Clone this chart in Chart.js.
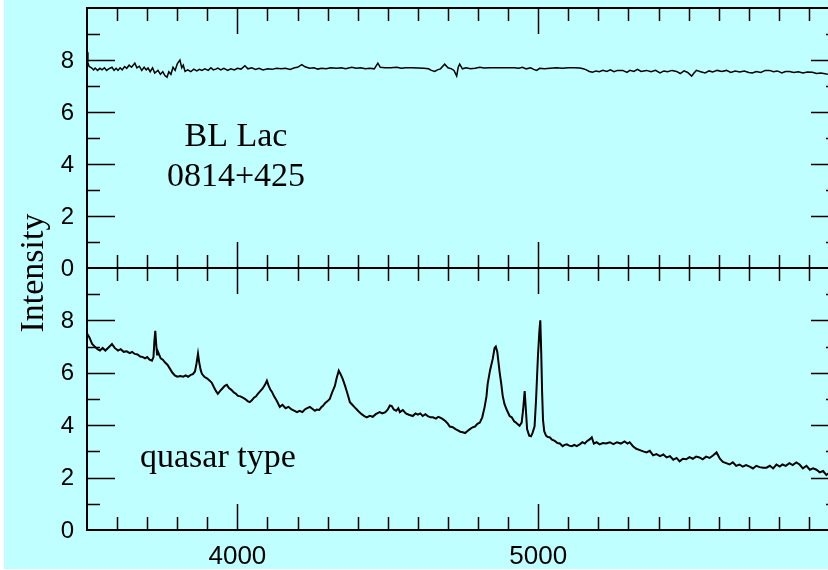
<!DOCTYPE html>
<html>
<head>
<meta charset="utf-8">
<title>BL Lac vs quasar spectrum</title>
<script src="https://cdn.jsdelivr.net/npm/chart.js@4/dist/chart.umd.min.js"></script>
<style>
  html, body { margin: 0; padding: 0; background: #fff; overflow: hidden; }
  #bg { position: absolute; left: 4px; top: 0; width: 824px; height: 569px; background: #c0ffff; }
  canvas { position: absolute; left: 0; top: 0; }
</style>
</head>
<body>
<div id="bg"></div>
<canvas id="chart-top" width="840" height="570"></canvas>
<canvas id="chart-bot" width="840" height="570"></canvas>
<script>
(() => {
  "use strict";
  const X_MIN = 3500, X_MAX = 6000;
  const Y_MIN = 0, Y_MAX = 10;

  // tick positions / labels
  const xMajorTicks = [4000, 5000];
  const xMinorTicks = [3600, 3700, 3800, 3900, 4100, 4200, 4300, 4400, 4500, 4600, 4700, 4800, 4900,
                       5100, 5200, 5300, 5400, 5500, 5600, 5700, 5800, 5900];
  const xTickLabels = ["4000", "5000"];
  const yMajorTicks = [2, 4, 6, 8];
  const yMinorTicks = [1, 3, 5, 7, 9];
  const yTickLabels = ["0", "2", "4", "6", "8"];

  // BL Lac 0814+425 (upper panel)
  const blWave = [3500, 3503, 3507, 3515, 3522, 3527, 3535, 3543, 3550, 3558, 3565, 3572, 3583, 3590, 3597,
    3603, 3610, 3617, 3625, 3632, 3640, 3648, 3659, 3666, 3674, 3682, 3690, 3697, 3703, 3710, 3718, 3725,
    3736, 3744, 3752, 3759, 3766, 3772, 3779, 3786, 3793, 3800, 3809, 3815, 3820, 3826, 3835, 3845, 3855,
    3865, 3874, 3882, 3892, 3903, 3912, 3920, 3930, 3935, 3945, 3955, 3968, 3978, 3990, 4000, 4012, 4025,
    4035, 4048, 4060, 4072, 4085, 4101, 4115, 4130, 4145, 4160, 4175, 4190, 4200, 4214, 4225, 4240, 4255,
    4267, 4280, 4295, 4310, 4330, 4345, 4360, 4380, 4395, 4410, 4425, 4440, 4455, 4467, 4475, 4490, 4510,
    4530, 4545, 4560, 4580, 4600, 4620, 4635, 4645, 4656, 4665, 4675, 4689, 4700, 4712, 4720, 4729, 4734,
    4739, 4748, 4760, 4775, 4790, 4806, 4820, 4840, 4860, 4880, 4900, 4920, 4935, 4948, 4960, 4975, 4985,
    4995, 5005, 5020, 5040, 5060, 5080, 5100, 5120, 5138, 5150, 5160, 5170, 5181, 5192, 5203, 5215, 5228,
    5240, 5252, 5264, 5281, 5295, 5305, 5318, 5330, 5342, 5360, 5375, 5390, 5405, 5418, 5430, 5445, 5460,
    5472, 5485, 5497, 5510, 5518, 5526, 5540, 5555, 5568, 5580, 5595, 5610, 5626, 5640, 5655, 5670, 5685,
    5700, 5712, 5725, 5740, 5755, 5769, 5782, 5795, 5810, 5822, 5835, 5850, 5865, 5880, 5895, 5912, 5925,
    5940, 5958, 5975, 6000];
  const blFlux = [8.3, 7.9, 7.75, 7.7, 7.62, 7.69, 7.6, 7.68, 7.62, 7.7, 7.6, 7.66, 7.72, 7.6, 7.68,
    7.6, 7.7, 7.62, 7.75, 7.68, 7.8, 7.72, 7.88, 7.7, 7.76, 7.6, 7.72, 7.62, 7.69, 7.55, 7.7, 7.5,
    7.6, 7.45, 7.55, 7.4, 7.34, 7.55, 7.45, 7.72, 7.6, 7.85, 8.0, 7.7, 7.8, 7.56, 7.62, 7.55, 7.65,
    7.58, 7.64, 7.6, 7.66, 7.6, 7.7, 7.62, 7.66, 7.69, 7.62, 7.68, 7.6, 7.66, 7.62, 7.68, 7.65, 7.78,
    7.66, 7.7, 7.64, 7.68, 7.62, 7.66, 7.64, 7.68, 7.66, 7.68, 7.64, 7.7, 7.72, 7.82, 7.74, 7.68, 7.7,
    7.65, 7.68, 7.66, 7.7, 7.68, 7.7, 7.66, 7.72, 7.68, 7.7, 7.66, 7.68, 7.66, 7.88, 7.72, 7.7, 7.7,
    7.72, 7.68, 7.7, 7.7, 7.69, 7.68, 7.66, 7.6, 7.56, 7.62, 7.66, 7.84, 7.7, 7.66, 7.6, 7.38, 7.72,
    7.84, 7.66, 7.7, 7.66, 7.68, 7.72, 7.69, 7.7, 7.7, 7.7, 7.7, 7.7, 7.68, 7.72, 7.66, 7.7, 7.64,
    7.6, 7.68, 7.66, 7.68, 7.7, 7.68, 7.7, 7.7, 7.69, 7.66, 7.62, 7.56, 7.53, 7.58, 7.55, 7.6, 7.56,
    7.62, 7.55, 7.6, 7.6, 7.52, 7.6, 7.56, 7.64, 7.56, 7.6, 7.55, 7.6, 7.5, 7.58, 7.55, 7.6, 7.56,
    7.48, 7.58, 7.52, 7.38, 7.5, 7.6, 7.55, 7.5, 7.58, 7.54, 7.6, 7.56, 7.6, 7.52, 7.58, 7.54, 7.58,
    7.52, 7.5, 7.56, 7.52, 7.6, 7.6, 7.55, 7.58, 7.5, 7.56, 7.56, 7.52, 7.55, 7.5, 7.54, 7.53, 7.48,
    7.5, 7.46, 7.45, 7.44];

  // quasar-type spectrum (lower panel)
  const qWave = [3500, 3508, 3517, 3526, 3535, 3543, 3552, 3561, 3570, 3583, 3592, 3603, 3612, 3622, 3632,
    3642, 3650, 3659, 3668, 3677, 3686, 3693, 3700, 3708, 3716, 3721, 3724, 3727, 3730, 3733, 3736, 3745,
    3752, 3759, 3768, 3776, 3784, 3792, 3800, 3810, 3820, 3828, 3836, 3845, 3852, 3859, 3864, 3869, 3873,
    3878, 3882, 3890, 3900, 3908, 3915, 3922, 3929, 3935, 3942, 3950, 3958, 3965, 3972, 3980, 3988, 3995,
    4002, 4010, 4018, 4026, 4034, 4041, 4048, 4055, 4062, 4068, 4076, 4084, 4092, 4098, 4104, 4110, 4115,
    4122, 4130, 4141, 4150, 4160, 4170, 4180, 4190, 4198, 4207, 4216, 4224, 4232, 4241, 4250, 4258, 4264,
    4272, 4280, 4284, 4292, 4300, 4307, 4315, 4324, 4330, 4337, 4343, 4350, 4358, 4366, 4374, 4382, 4390,
    4397, 4405, 4413, 4422, 4430, 4440, 4450, 4460, 4473, 4482, 4492, 4500, 4507, 4513, 4520, 4528, 4535,
    4540, 4550, 4560, 4570, 4583, 4592, 4600, 4608, 4616, 4625, 4633, 4642, 4650, 4660, 4668, 4676, 4683,
    4692, 4700, 4706, 4716, 4725, 4733, 4741, 4749, 4757, 4765, 4773, 4782, 4790, 4798, 4806, 4814, 4822,
    4828, 4832, 4840, 4849, 4855, 4859, 4864, 4868, 4872, 4877, 4882, 4888, 4895, 4905, 4912, 4920, 4926,
    4932, 4938, 4945, 4950, 4955, 4959, 4963, 4970, 4976, 4981, 4988, 4993, 4999, 5004, 5007, 5010, 5013,
    5016, 5020, 5026, 5032, 5038, 5046, 5055, 5064, 5072, 5081, 5088, 5095, 5103, 5112, 5120, 5128, 5138,
    5147, 5155, 5163, 5171, 5178, 5185, 5194, 5204, 5215, 5226, 5238, 5250, 5262, 5275, 5287, 5297, 5304,
    5315, 5326, 5338, 5349, 5360, 5371, 5382, 5393, 5405, 5416, 5427, 5438, 5449, 5460, 5470, 5481, 5492,
    5503, 5514, 5525, 5536, 5547, 5558, 5570, 5582, 5593, 5604, 5614, 5625, 5636, 5647, 5658, 5669, 5680,
    5691, 5703, 5714, 5725, 5736, 5748, 5759, 5770, 5781, 5792, 5803, 5812, 5823, 5835, 5846, 5858, 5869,
    5880, 5892, 5903, 5914, 5925, 5936, 5947, 5958, 5970, 5985, 6000];
  const qFlux = [7.5, 7.35, 7.1, 7.0, 6.9, 6.85, 6.95, 6.85, 6.95, 7.1, 6.95, 6.85, 6.9, 6.8, 6.82,
    6.75, 6.8, 6.72, 6.7, 6.62, 6.6, 6.55, 6.6, 6.5, 6.46, 6.6, 7.2, 7.6, 7.1, 6.7, 6.8, 6.55,
    6.5, 6.4, 6.3, 6.15, 6.0, 5.9, 5.85, 5.88, 5.85, 5.9, 5.85, 5.92, 5.95, 6.05, 6.35, 6.73, 6.4,
    6.1, 5.96, 5.85, 5.78, 5.7, 5.62, 5.45, 5.3, 5.2, 5.3, 5.4, 5.5, 5.54, 5.42, 5.35, 5.25, 5.2,
    5.12, 5.1, 5.05, 5.0, 4.92, 4.88, 4.95, 5.05, 5.1, 5.2, 5.3, 5.4, 5.55, 5.7, 5.5, 5.35, 5.27,
    5.1, 4.95, 4.7, 4.78, 4.65, 4.7, 4.6, 4.55, 4.5, 4.55, 4.5, 4.6, 4.65, 4.7, 4.62, 4.55, 4.6,
    4.58, 4.7, 4.73, 4.85, 4.92, 5.0, 5.25, 5.5, 5.8, 6.08, 5.95, 5.77, 5.5, 5.2, 4.88, 4.78, 4.68,
    4.6, 4.5, 4.42, 4.35, 4.3, 4.36, 4.32, 4.42, 4.5, 4.45, 4.5, 4.6, 4.75, 4.73, 4.6, 4.55, 4.65,
    4.5, 4.58, 4.45, 4.4, 4.35, 4.45, 4.4, 4.45, 4.35, 4.42, 4.35, 4.3, 4.3, 4.25, 4.32, 4.28, 4.23,
    4.15, 4.05, 3.95, 3.92, 3.85, 3.8, 3.75, 3.73, 3.7, 3.78, 3.85, 3.92, 3.95, 4.05, 4.1, 4.3, 4.7,
    5.1, 5.58, 6.1, 6.54, 6.95, 7.0, 6.8, 6.4, 6.0, 5.6, 5.12, 4.8, 4.6, 4.35, 4.3, 4.15, 4.1,
    4.04, 3.98, 4.1, 4.6, 5.3, 4.6, 3.85, 3.6, 3.58, 3.7, 3.96, 5.0, 6.6, 7.6, 8.0, 6.8, 5.27,
    4.2, 3.77, 3.6, 3.55, 3.54, 3.45, 3.4, 3.32, 3.3, 3.2, 3.25, 3.27, 3.22, 3.2, 3.25, 3.2, 3.27,
    3.35, 3.3, 3.4, 3.46, 3.54, 3.3, 3.35, 3.27, 3.32, 3.3, 3.35, 3.28, 3.35, 3.3, 3.38, 3.3, 3.35,
    3.2, 3.1, 3.05, 3.0, 2.96, 3.02, 2.85, 2.9, 2.82, 2.88, 2.77, 2.82, 2.68, 2.75, 2.62, 2.72, 2.7,
    2.78, 2.72, 2.8, 2.77, 2.7, 2.8, 2.75, 2.85, 2.96, 2.72, 2.6, 2.55, 2.5, 2.58, 2.45, 2.5, 2.42,
    2.48, 2.42, 2.35, 2.45, 2.4, 2.38, 2.38, 2.45, 2.35, 2.5, 2.42, 2.5, 2.45, 2.55, 2.48, 2.58, 2.5,
    2.35, 2.45, 2.3, 2.35, 2.3, 2.2, 2.25, 2.1, 2.2, 2.15, 2.2];

  const INK = "#000";
  const TICK_FONT_Y = '24px "Liberation Sans", Arial, sans-serif';
  const TICK_FONT_X = '26px "Liberation Sans", Arial, sans-serif';
  const NOTE_FONT = '34px "Liberation Serif", "Times New Roman", serif';

  // frame + inward ticks on all four sides, tick labels on the left (and bottom if asked)
  const framePlugin = {
    id: "frame",
    afterDraw(chart, args, opts) {
      const { ctx, chartArea: a, scales: { x, y } } = chart;
      ctx.save();
      ctx.strokeStyle = INK;
      ctx.lineWidth = 2;
      ctx.strokeRect(a.left, a.top, a.right - a.left, a.bottom - a.top);
      ctx.lineWidth = 1.5;
      ctx.beginPath();
      const xt = (v, len) => {
        const px = Math.round(x.getPixelForValue(v)) + 0.5;
        ctx.moveTo(px, a.top); ctx.lineTo(px, a.top + len);
        ctx.moveTo(px, a.bottom); ctx.lineTo(px, a.bottom - len);
      };
      const yt = (v, len) => {
        const py = Math.round(y.getPixelForValue(v)) + 0.5;
        ctx.moveTo(a.left, py); ctx.lineTo(a.left + len, py);
        ctx.moveTo(a.right, py); ctx.lineTo(a.right - len, py);
      };
      xMajorTicks.forEach((v) => xt(v, 26));
      xMinorTicks.forEach((v) => xt(v, 13));
      yMajorTicks.forEach((v) => yt(v, 28));
      yMinorTicks.forEach((v) => yt(v, 13));
      ctx.stroke();

      ctx.fillStyle = INK;
      ctx.font = TICK_FONT_Y;
      ctx.textAlign = "right";
      ctx.textBaseline = "middle";
      yTickLabels.forEach((t) => ctx.fillText(t, a.left - 13, y.getPixelForValue(+t) + 1));
      if (opts.xLabels) {
        ctx.font = TICK_FONT_X;
        ctx.textAlign = "center";
        xTickLabels.forEach((t) => ctx.fillText(t, x.getPixelForValue(+t), a.bottom + 27));
      }
      (opts.notes || []).forEach((n) => {
        ctx.font = NOTE_FONT;
        ctx.textAlign = n.align || "left";
        ctx.textBaseline = "alphabetic";
        ctx.save();
        ctx.translate(n.x, n.y);
        if (n.rot) ctx.rotate(n.rot);
        ctx.fillText(n.text, 0, 0);
        ctx.restore();
      });
      ctx.restore();
    },
  };

  function makeChart(id, wave, flux, pad, lw, frameOpts) {
    return new Chart(document.getElementById(id), {
      type: "line",
      data: {
        datasets: [{
          data: wave.map((w, i) => ({ x: w, y: flux[i] })),
          borderColor: INK, borderWidth: lw, pointRadius: 0, tension: 0,
          borderJoinStyle: "miter",
        }],
      },
      options: {
        responsive: false, animation: false, parsing: false,
        layout: { padding: pad },
        plugins: { legend: { display: false }, tooltip: { enabled: false }, frame: frameOpts },
        scales: {
          x: { type: "linear", min: X_MIN, max: X_MAX, display: false },
          y: { type: "linear", min: Y_MIN, max: Y_MAX, display: false },
        },
      },
      plugins: [framePlugin],
    });
  }

  makeChart("chart-top", blWave, blFlux, { left: 87, top: 8, right: 1, bottom: 302 }, 1.5, {
    xLabels: false,
    notes: [
      { text: "BL Lac", x: 236, y: 146, align: "center" },
      { text: "0814+425", x: 236, y: 186, align: "center" },
    ],
  });
  makeChart("chart-bot", qWave, qFlux, { left: 87, top: 268, right: 1, bottom: 40 }, 2, {
    xLabels: true,
    notes: [
      { text: "quasar type", x: 140, y: 467 },
      { text: "Intensity", x: 43, y: 273, align: "center", rot: -Math.PI / 2 },
    ],
  });
})();
</script>
</body>
</html>
